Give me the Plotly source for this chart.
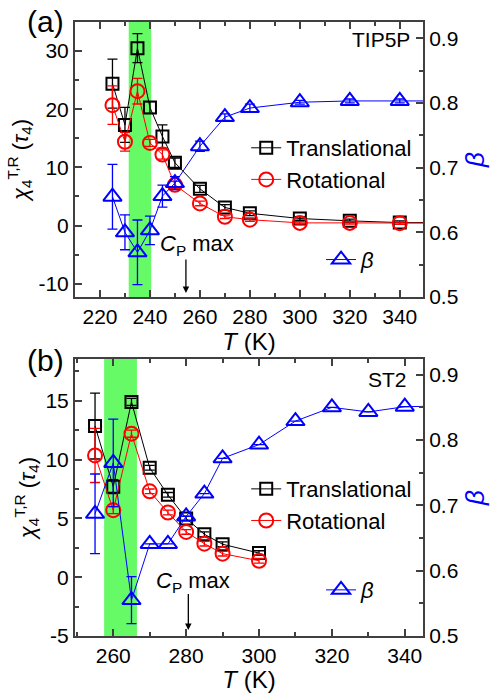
import plotly.graph_objects as go

# ---------------- data: panel (a) TIP5P ----------------
T_a = [225, 230, 235, 240, 245, 250, 260, 270, 280, 300, 320, 340, 360]
trans_a = [24.4, 17.3, 30.5, 20.3, 15.3, 10.8, 6.3, 3.1, 2.1, 1.2, 0.8, 0.5, 0.5]
trans_err_a = [4.2, 3.0, 2.5, 1.0, 2.0, 0.8, 0.6, 0.5, 0.4, 0.3, 0.3, 0.3, 0.3]
rot_a = [20.7, 14.4, 23.1, 14.2, 12.2, 7.0, 3.8, 1.5, 1.0, 0.45, 0.45, 0.4, 0.4]
rot_err_a = [3.3, 1.6, 2.2, 0.6, 0.8, 0.6, 0.4, 0.3, 0.3, 0.2, 0.2, 0.2, 0.2]
beta_a = [0.655, 0.600, 0.569, 0.603, 0.656, 0.676, 0.733, 0.778, 0.792, 0.801, 0.803, 0.803, 0.803]
beta_err_a = [0.05, 0.027, 0.05, 0.022, 0.017, 0.01, 0.008, 0.005, 0.006, 0.003, 0.003, 0.003, 0.003]
band_a = [231.5, 240.5]
cp_a = 254.4

# ---------------- data: panel (b) ST2 ----------------
T_b = [255, 260, 265, 270, 275, 280, 285, 290, 300]
trans_b = [12.85, 7.7, 14.9, 9.3, 7.0, 5.0, 3.65, 2.8, 2.05]
trans_err_b = [2.8, 0.6, 0.3, 0.2, 0.2, 0.2, 0.2, 0.2, 0.2]
rot_b = [10.35, 5.7, 12.2, 7.3, 5.5, 3.85, 2.85, 2.0, 1.4]
rot_err_b = [2.3, 0.3, 0.3, 0.2, 0.2, 0.2, 0.2, 0.2, 0.2]
T_beta_b = [255, 260, 265, 270, 275, 280, 285, 290, 300, 310, 320, 330, 340, 350]
beta_b = [0.687, 0.765, 0.555, 0.641, 0.641, 0.683, 0.718, 0.772, 0.793, 0.829, 0.850, 0.843, 0.851, 0.852]
beta_err_b = [0.061, 0.067, 0.036, 0, 0, 0, 0, 0, 0, 0, 0, 0, 0, 0]
band_b = [257.5, 266.5]
cp_b = 280.6

FONT = "Arial, Liberation Sans, sans-serif"
AX = "#404040"
BLACK, RED, BLUE = "#000000", "#ff0000", "#0000ff"
GREEN = "rgb(102,250,102)"

fig = go.Figure()


def add_panel(xa, ya, yb, T, tr, tre, ro, roe, Tb, be, bee, leg1, leg2):
    fig.add_trace(go.Scatter(
        x=T, y=tr, xaxis=xa, yaxis=ya, name="Translational", legend=leg1,
        mode="lines+markers",
        line=dict(color=BLACK, width=1),
        marker=dict(symbol="square-open", size=12, color=BLACK, line=dict(width=2)),
        error_y=dict(type="data", array=tre, color=BLACK, thickness=1.3, width=5),
    ))
    fig.add_trace(go.Scatter(
        x=T, y=ro, xaxis=xa, yaxis=ya, name="Rotational", legend=leg1,
        mode="lines+markers",
        line=dict(color=RED, width=1),
        marker=dict(symbol="circle-open", size=14, color=RED, line=dict(width=2)),
        error_y=dict(type="data", array=roe, color=RED, thickness=1.3, width=5),
    ))
    fig.add_trace(go.Scatter(
        x=Tb, y=be, xaxis=xa, yaxis=yb, name="<i>β</i>", legend=leg2,
        mode="lines+markers",
        line=dict(color=BLUE, width=1),
        marker=dict(symbol="triangle-up-open", size=16, color=BLUE, line=dict(width=2)),
        error_y=dict(type="data", array=bee, color=BLUE, thickness=1.3, width=5),
    ))


add_panel("x", "y", "y3", T_a, trans_a, trans_err_a, rot_a, rot_err_a,
          T_a, beta_a, beta_err_a, "legend", "legend2")
add_panel("x2", "y2", "y4", T_b, trans_b, trans_err_b, rot_b, rot_err_b,
          T_beta_b, beta_b, beta_err_b, "legend3", "legend4")

tickfont = dict(family=FONT, size=21, color="black")


def xax(rng, vals, anchor):
    return dict(range=rng, tickvals=vals,
                ticks="inside", ticklen=7, tickwidth=1.5, tickcolor=AX,
                minor=dict(dtick=10, ticks="inside", ticklen=4, tickwidth=1.5, tickcolor=AX),
                showline=True, linecolor=AX, linewidth=2, mirror="ticks",
                showgrid=False, zeroline=False, tickfont=tickfont, anchor=anchor,
                title=dict(text="<i>T</i> (K)", font=dict(family=FONT, size=24, color="black"), standoff=2))


ytitle = "<i>χ</i><sub>4</sub><sup>T,R</sup> (<i>τ</i><sub>4</sub>)"


def yax(rng, vals, minor, dom, anchor):
    return dict(range=rng, tickvals=vals, ticktext=[str(v) for v in vals],
                ticks="inside", ticklen=7, tickwidth=1.5, tickcolor=AX,
                minor=dict(dtick=minor, ticks="inside", ticklen=4, tickwidth=1.5, tickcolor=AX),
                showline=True, linecolor=AX, linewidth=2, mirror=False,
                showgrid=False, zeroline=False, tickfont=tickfont, domain=dom, anchor=anchor,
                title=dict(text=ytitle, font=dict(family=FONT, size=22, color="black"), standoff=4))


def ybeta(rng, overlay, anchor):
    return dict(range=rng, tickvals=[0.5, 0.6, 0.7, 0.8, 0.9], ticktext=["0.5", "0.6", "0.7", "0.8", "0.9"],
                side="right", overlaying=overlay, anchor=anchor,
                ticks="inside", ticklen=7, tickwidth=1.5, tickcolor=AX,
                minor=dict(dtick=0.05, ticks="inside", ticklen=4, tickwidth=1.5, tickcolor=AX),
                showline=True, linecolor=AX, linewidth=2,
                showgrid=False, zeroline=False, tickfont=tickfont,
                title=dict(text="<i>β</i>", font=dict(family=FONT, size=26, color=BLUE), standoff=14))


dom_a = [0.5521, 1.0]
dom_b = [0.0, 0.4511]
legfont = dict(family=FONT, size=22, color="black")

fig.update_layout(
    width=490, height=693,
    margin=dict(l=75, r=67, t=22, b=57, autoexpand=False),
    paper_bgcolor="white", plot_bgcolor="white",
    font=dict(family=FONT, size=21, color="black"),
    xaxis=xax([210, 349.3], [220, 240, 260, 280, 300, 320, 340], "y"),
    xaxis2=xax([249.5, 345], [260, 280, 300, 320, 340], "y2"),
    yaxis=yax([-12.3, 35], [-10, 0, 10, 20, 30], 5, dom_a, "x"),
    yaxis2=yax([-5, 18.55], [-5, 0, 5, 10, 15], 2.5, dom_b, "x2"),
    yaxis3=ybeta([0.5, 0.925], "y", "x"),
    yaxis4=ybeta([0.5, 0.924], "y2", "x2"),
    legend=dict(x=0.492, y=0.829, xanchor="left", yanchor="top", bgcolor="rgba(0,0,0,0)",
                font=legfont, tracegroupgap=0, itemwidth=30),
    legend2=dict(x=0.707, y=0.647, xanchor="left", yanchor="top", bgcolor="rgba(0,0,0,0)",
                 font=legfont, itemwidth=30),
    legend3=dict(x=0.492, y=0.2735, xanchor="left", yanchor="top", bgcolor="rgba(0,0,0,0)",
                 font=legfont, tracegroupgap=0, itemwidth=30),
    legend4=dict(x=0.707, y=0.109, xanchor="left", yanchor="top", bgcolor="rgba(0,0,0,0)",
                 font=legfont, itemwidth=30),
)

# green bands
fig.add_shape(type="rect", xref="x", yref="y domain", x0=band_a[0], x1=band_a[1], y0=0, y1=1,
              fillcolor=GREEN, line=dict(width=0), layer="below")
fig.add_shape(type="rect", xref="x2", yref="y2 domain", x0=band_b[0], x1=band_b[1], y0=0, y1=1,
              fillcolor=GREEN, line=dict(width=0), layer="below")

# Cp max arrows
fig.add_annotation(x=cp_a, y=-11.6, ax=cp_a, ay=-5.6, xref="x", yref="y", axref="x", ayref="y",
                   text="", showarrow=True, arrowhead=2, arrowsize=1, arrowwidth=1.3, arrowcolor="black")
fig.add_annotation(x=cp_b, y=-4.5, ax=cp_b, ay=-1.3, xref="x2", yref="y2", axref="x2", ayref="y2",
                   text="", showarrow=True, arrowhead=2, arrowsize=1, arrowwidth=1.3, arrowcolor="black")
fig.add_annotation(x=258.8, y=-3.4, xref="x", yref="y", text="<i>C</i><sub>P</sub> max",
                   showarrow=False, font=dict(family=FONT, size=22, color="black"))
fig.add_annotation(x=282.0, y=-0.4, xref="x2", yref="y2", text="<i>C</i><sub>P</sub> max",
                   showarrow=False, font=dict(family=FONT, size=22, color="black"))

# panel labels
fig.add_annotation(x=-0.1437, y=1.0008, xref="paper", yref="paper", xanchor="left", yanchor="middle",
                   text="(a)", showarrow=False, font=dict(family=FONT, size=30, color="black"))
fig.add_annotation(x=-0.1437, y=0.4495, xref="paper", yref="paper", xanchor="left", yanchor="middle",
                   text="(b)", showarrow=False, font=dict(family=FONT, size=30, color="black"))
fig.add_annotation(x=0.968, y=0.9707, xref="paper", yref="paper", xanchor="right", yanchor="middle",
                   text="TIP5P", showarrow=False, font=dict(family=FONT, size=21, color="black"))
fig.add_annotation(x=0.96, y=0.4178, xref="paper", yref="paper", xanchor="right", yanchor="middle",
                   text="ST2", showarrow=False, font=dict(family=FONT, size=21, color="black"))

fig.write_html("out.html")
